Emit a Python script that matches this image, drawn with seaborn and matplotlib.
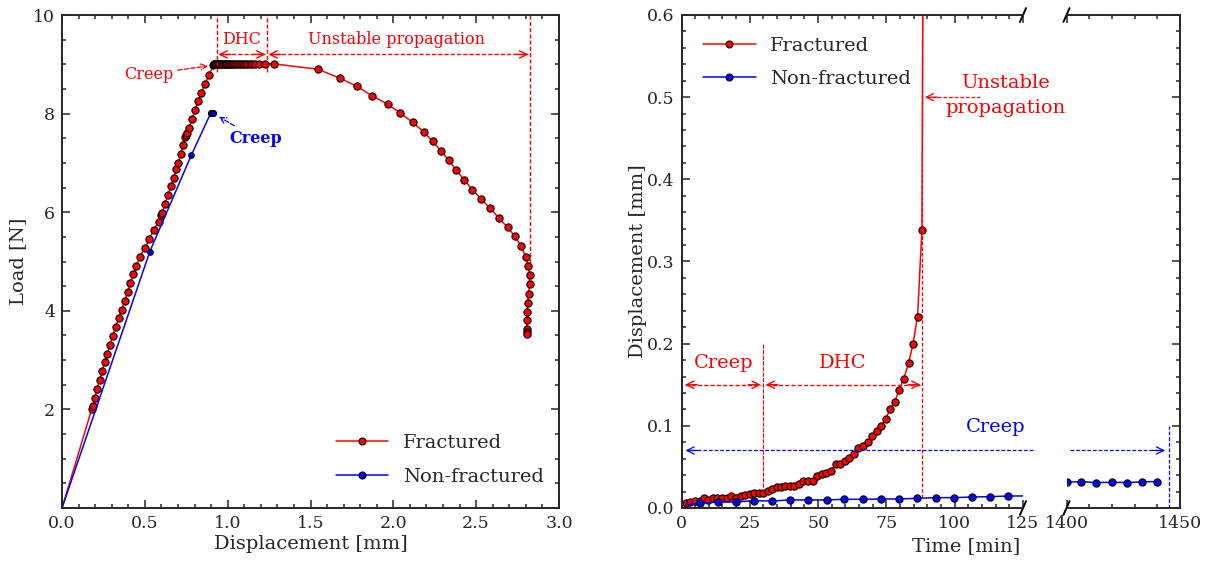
import numpy as np
import pandas as pd
import matplotlib
matplotlib.use("Agg")
import matplotlib.pyplot as plt
from matplotlib.lines import Line2D
from matplotlib.ticker import MultipleLocator, FormatStrFormatter
import seaborn as sns

# ---- left panel: load vs displacement ----
frac_disp = [0.0,
             0.179, 0.188, 0.198, 0.212, 0.227, 0.243, 0.258, 0.273, 0.289, 0.305,
             0.323, 0.342, 0.360, 0.378, 0.396, 0.413, 0.431, 0.449, 0.469, 0.500,
             0.527, 0.553, 0.585, 0.600, 0.605, 0.621, 0.640, 0.658, 0.675, 0.690,
             0.702, 0.716, 0.732, 0.745, 0.751, 0.757, 0.768, 0.786, 0.804, 0.823,
             0.841, 0.863, 0.889, 0.913,
             0.916, 0.919, 0.922, 0.926, 0.930, 0.935, 0.940, 0.945, 0.950, 0.956,
             0.962, 0.968, 0.975, 0.982, 0.990, 0.998, 1.006, 1.015, 1.024, 1.034,
             1.044, 1.055, 1.066, 1.078, 1.090, 1.103, 1.117, 1.132, 1.148, 1.166,
             1.190, 1.226,
             1.277, 1.545, 1.676, 1.782, 1.872, 1.966, 2.043, 2.117, 2.183, 2.237,
             2.289, 2.333, 2.381, 2.429, 2.477, 2.530, 2.584, 2.638, 2.690, 2.734,
             2.772, 2.798, 2.814, 2.822, 2.822, 2.816, 2.810, 2.806, 2.806, 2.806,
             2.808, 2.808]
frac_load = [0.0,
             2.00, 2.06, 2.24, 2.42, 2.60, 2.78, 2.96, 3.13, 3.31, 3.49,
             3.67, 3.85, 4.02, 4.20, 4.38, 4.56, 4.74, 4.91, 5.10, 5.27,
             5.46, 5.64, 5.81, 5.95, 5.99, 6.17, 6.35, 6.53, 6.70, 6.88,
             6.99, 7.18, 7.36, 7.53, 7.57, 7.61, 7.71, 7.90, 8.07, 8.26,
             8.42, 8.61, 8.78, 8.99,
             9.00, 9.00, 9.00, 9.00, 9.00, 9.00, 9.00, 9.00, 9.00, 9.00,
             9.00, 9.00, 9.00, 9.00, 9.00, 9.00, 9.00, 9.00, 9.00, 9.00,
             9.00, 9.00, 9.00, 9.00, 9.00, 9.00, 9.00, 9.01, 9.01, 9.01,
             9.01, 9.01,
             9.01, 8.90, 8.72, 8.55, 8.36, 8.19, 8.01, 7.82, 7.63, 7.44,
             7.24, 7.06, 6.85, 6.65, 6.46, 6.27, 6.08, 5.88, 5.69, 5.51,
             5.31, 5.10, 4.91, 4.72, 4.54, 4.34, 4.16, 3.98, 3.81, 3.63,
             3.57, 3.53]

nonfrac_disp = [0.0, 0.530, 0.781, 0.898, 0.900, 0.902, 0.904, 0.906, 0.908, 0.910, 0.912, 0.914]
nonfrac_load = [0.0, 5.20, 7.16, 8.01, 8.01, 8.01, 8.01, 8.01, 8.01, 8.01, 8.01, 8.01]

# ---- right panel: displacement vs time ----
frac_time = [1.5, 3.1, 4.9, 6.8, 8.4, 9.8, 11.4, 13.1, 14.8, 16.5,
             18.2, 19.9, 21.7, 23.3, 25.1, 26.6, 28.4, 29.9, 31.5, 33.1,
             34.8, 36.4, 38.0, 39.6, 41.2, 42.9, 44.6, 46.3, 48.0, 49.7,
             51.3, 52.8, 54.6, 56.4, 58.0, 59.8, 61.4, 63.1, 64.7, 66.5,
             68.1, 69.7, 71.4, 73.0, 74.7, 76.3, 78.0, 79.7, 81.3, 83.1,
             84.7, 86.4, 88.0, 88.4]
frac_dx = [0.0057, 0.0077, 0.0089, 0.0085, 0.0126, 0.0098, 0.0118, 0.0118, 0.0118, 0.0126,
           0.0150, 0.0126, 0.0150, 0.0163, 0.0175, 0.0180, 0.0180, 0.0183, 0.0211, 0.0228,
           0.0260, 0.0260, 0.0264, 0.0268, 0.0272, 0.0293, 0.0325, 0.0333, 0.0333, 0.0390,
           0.0415, 0.0423, 0.0455, 0.0530, 0.0530, 0.0570, 0.0610, 0.0660, 0.0730, 0.0760,
           0.0800, 0.0880, 0.0940, 0.1000, 0.1080, 0.1200, 0.1290, 0.1440, 0.1570, 0.1760,
           0.1990, 0.2330, 0.3380, 0.6500]

nonfrac_time = [1.5, 6.8, 13.2, 19.8, 26.5, 33.1, 39.7, 46.4, 53.1, 59.6,
                66.3, 73.0, 79.6, 86.3, 93.0, 99.6, 106.3, 112.9, 119.5,
                1400.0, 1406.6, 1413.2, 1419.9, 1426.5, 1433.1, 1439.7]
nonfrac_dx = [0.0040, 0.0057, 0.0073, 0.0073, 0.0089, 0.0085, 0.0098, 0.0098, 0.0098, 0.0106,
              0.0106, 0.0110, 0.0110, 0.0118, 0.0126, 0.0126, 0.0134, 0.0138, 0.0146,
              0.0315, 0.0320, 0.0310, 0.0312, 0.0310, 0.0318, 0.0322]

RED = "#ff0000"
BLUE = "#0000ff"

sns.set_style("ticks")
plt.rcParams["font.family"] = ["DejaVu Serif"]
plt.rcParams["font.size"] = 13
plt.rcParams["axes.linewidth"] = 1.4

fig = plt.figure(figsize=(12.11, 5.61), dpi=100)
ax1 = fig.add_axes([62 / 1211, 53 / 561, 497 / 1211, 493 / 561])
ax2 = fig.add_axes([681.5 / 1211, 53 / 561, 341.5 / 1211, 493 / 561])
ax3 = fig.add_axes([1066.5 / 1211, 53 / 561, 113.5 / 1211, 493 / 561])


def style_ticks(ax):
    ax.tick_params(which="both", direction="in", top=True, right=True, width=1.1,
                   labelsize=12.5, pad=5)
    ax.tick_params(which="major", length=6)
    ax.tick_params(which="minor", length=3)


def dashed_arrow(ax, x0, x1, y, color, left_head=True, right_head=True, lw=1.0):
    ax.plot([x0, x1], [y, y], color=color, lw=lw, dashes=(3, 1.5), clip_on=False)
    head = dict(arrowstyle="->", color=color, lw=lw, shrinkA=0, shrinkB=0,
                mutation_scale=13)
    if left_head:
        ax.annotate("", xy=(x0, y), xytext=(9, 0), textcoords="offset points",
                    arrowprops=head, annotation_clip=False)
    if right_head:
        ax.annotate("", xy=(x1, y), xytext=(-9, 0), textcoords="offset points",
                    arrowprops=head, annotation_clip=False)


def fill_line(ax, x, y, color, ms, label, markevery=None):
    df = pd.DataFrame({"x": x, "y": y})
    sns.lineplot(data=df, x="x", y="y", sort=False, estimator=None, ax=ax,
                 color=color, lw=1.1, marker="o", markersize=ms,
                 markerfacecolor=color, markeredgecolor="black",
                 markeredgewidth=0.8, markevery=markevery, label=label,
                 legend=False)


# ---------------- left panel ----------------
fill_line(ax1, frac_disp, frac_load, RED, 5.2, "Fractured",
          markevery=list(range(1, len(frac_disp))))
fill_line(ax1, nonfrac_disp, nonfrac_load, BLUE, 4.0, "Non-fractured",
          markevery=list(range(1, len(nonfrac_disp))))

ax1.set_xlim(0, 3)
ax1.set_ylim(0, 10)
ax1.xaxis.set_major_locator(MultipleLocator(0.5))
ax1.xaxis.set_minor_locator(MultipleLocator(0.1))
ax1.set_yticks([2, 4, 6, 8, 10])
ax1.yaxis.set_minor_locator(MultipleLocator(0.5))
ax1.xaxis.set_major_formatter(FormatStrFormatter("%.1f"))
style_ticks(ax1)
ax1.set_xlabel("Displacement [mm]", fontsize=14, labelpad=2)
ax1.set_ylabel("Load [N]", fontsize=14, labelpad=4)

# regions on the left
for xv, y0 in [(0.938, 8.85), (1.237, 8.85), (2.822, 4.97)]:
    ax1.plot([xv, xv], [y0, 10], color=RED, lw=1.0, dashes=(3, 1.5))
dashed_arrow(ax1, 0.945, 1.228, 9.2, RED)
dashed_arrow(ax1, 1.247, 2.815, 9.2, RED)
ax1.text(1.085, 9.5, "DHC", color=RED, ha="center", va="center", fontsize=11.5)
ax1.text(2.02, 9.5, "Unstable propagation", color=RED, ha="center", va="center", fontsize=11.5)
ax1.annotate("Creep", xy=(0.89, 8.97), xytext=(0.67, 8.8), color=RED, fontsize=11.5,
             ha="right", va="center",
             arrowprops=dict(arrowstyle="->", color=RED, lw=0.9, ls="--",
                             shrinkA=1, shrinkB=1, mutation_scale=11))
ax1.annotate("Creep", xy=(0.94, 7.95), xytext=(1.01, 7.5), color=BLUE, fontsize=11.5,
             ha="left", va="center", fontweight="semibold",
             arrowprops=dict(arrowstyle="->", color=BLUE, lw=0.9, ls="--",
                             shrinkA=1, shrinkB=1, mutation_scale=11))

handles = [Line2D([], [], color=RED, lw=1.1, marker="o", markersize=5,
                  markerfacecolor=RED, markeredgecolor="black", markeredgewidth=0.8),
           Line2D([], [], color=BLUE, lw=1.1, marker="o", markersize=5,
                  markerfacecolor=BLUE, markeredgecolor="black", markeredgewidth=0.8)]
labels = ["Fractured", "Non-fractured"]
ax1.legend(handles, labels, loc="upper left", bbox_to_anchor=(0.551, 0.150),
           frameon=False, fontsize=14, handlelength=2.7, handletextpad=0.75,
           labelspacing=0.8, borderpad=0, borderaxespad=0)

# ---------------- right panel (broken time axis) ----------------
for ax in (ax2, ax3):
    fill_line(ax, frac_time, frac_dx, RED, 5.2, "Fractured")
    fill_line(ax, nonfrac_time, nonfrac_dx, BLUE, 5.2, "Non-fractured",
              markevery=list(range(1, len(nonfrac_time))))
    ax.set_ylim(0, 0.6)
    ax.yaxis.set_major_locator(MultipleLocator(0.1))
    ax.yaxis.set_minor_locator(MultipleLocator(0.02))
    ax.yaxis.set_major_formatter(FormatStrFormatter("%.1f"))
    style_ticks(ax)
    ax.set_xlabel("")
    ax.set_ylabel("")

ax2.set_xlim(0, 125)
ax2.xaxis.set_major_locator(MultipleLocator(25))
ax2.xaxis.set_minor_locator(MultipleLocator(5))
ax2.spines["right"].set_visible(False)
ax2.tick_params(which="both", right=False)
ax2.set_ylabel("Displacement [mm]", fontsize=14, labelpad=0)

ax3.set_xlim(1400, 1450)
ax3.set_xticks([1400, 1450])
ax3.xaxis.set_minor_locator(MultipleLocator(10))
ax3.spines["left"].set_visible(False)
ax3.tick_params(which="both", left=False, labelleft=False)

# break marks
for ax, xb, dx in [(ax2, 1.0, 0.009), (ax3, 0.0, 0.027)]:
    for yb in (0.0, 1.0):
        ax.plot([xb - dx, xb + dx], [yb - 0.014, yb + 0.014], transform=ax.transAxes,
                color="black", lw=1.4, clip_on=False)

fig.text(966 / 1211, 0.027, "Time [min]", ha="center", va="center", fontsize=14)

# regions on the right
ax2.plot([30, 30], [0.018, 0.2], color=RED, lw=0.8, dashes=(4, 1))
ax2.plot([88.1, 88.1], [0.012, 0.6], color=RED, lw=0.9, dashes=(3, 1.5))
dashed_arrow(ax2, 1.3, 29.0, 0.15, RED)
dashed_arrow(ax2, 30.8, 87.5, 0.15, RED)
ax2.text(15.5, 0.177, "Creep", color=RED, ha="center", va="center", fontsize=14)
ax2.text(58.9, 0.177, "DHC", color=RED, ha="center", va="center", fontsize=14)
ax2.text(118.6, 0.502, "Unstable\npropagation", color=RED, ha="center", va="center",
         fontsize=14, linespacing=1.55)
ax2.plot([89.5, 109.3], [0.5, 0.5], color=RED, lw=0.9, dashes=(3, 1.5))
ax2.annotate("", xy=(89.1, 0.5), xytext=(9, 0), textcoords="offset points",
             arrowprops=dict(arrowstyle="->", color=RED, lw=0.9, shrinkA=0, shrinkB=0,
                             mutation_scale=13))

dashed_arrow(ax2, 1.5, 129.3, 0.07, BLUE, right_head=False, lw=0.9)
dashed_arrow(ax3, 1401.5, 1443.4, 0.07, BLUE, left_head=False, lw=0.9)
ax3.plot([1445.3, 1445.3], [0, 0.1], color=BLUE, lw=0.9, dashes=(3, 1.5))
ax2.text(115, 0.098, "Creep", color=BLUE, ha="center", va="center", fontsize=14)

ax2.legend(handles, labels, loc="upper left", bbox_to_anchor=(0.063, 0.956),
           frameon=False, fontsize=14, handlelength=2.7, handletextpad=0.75,
           labelspacing=0.8, borderpad=0, borderaxespad=0)

fig.savefig("out.png", dpi=100)
